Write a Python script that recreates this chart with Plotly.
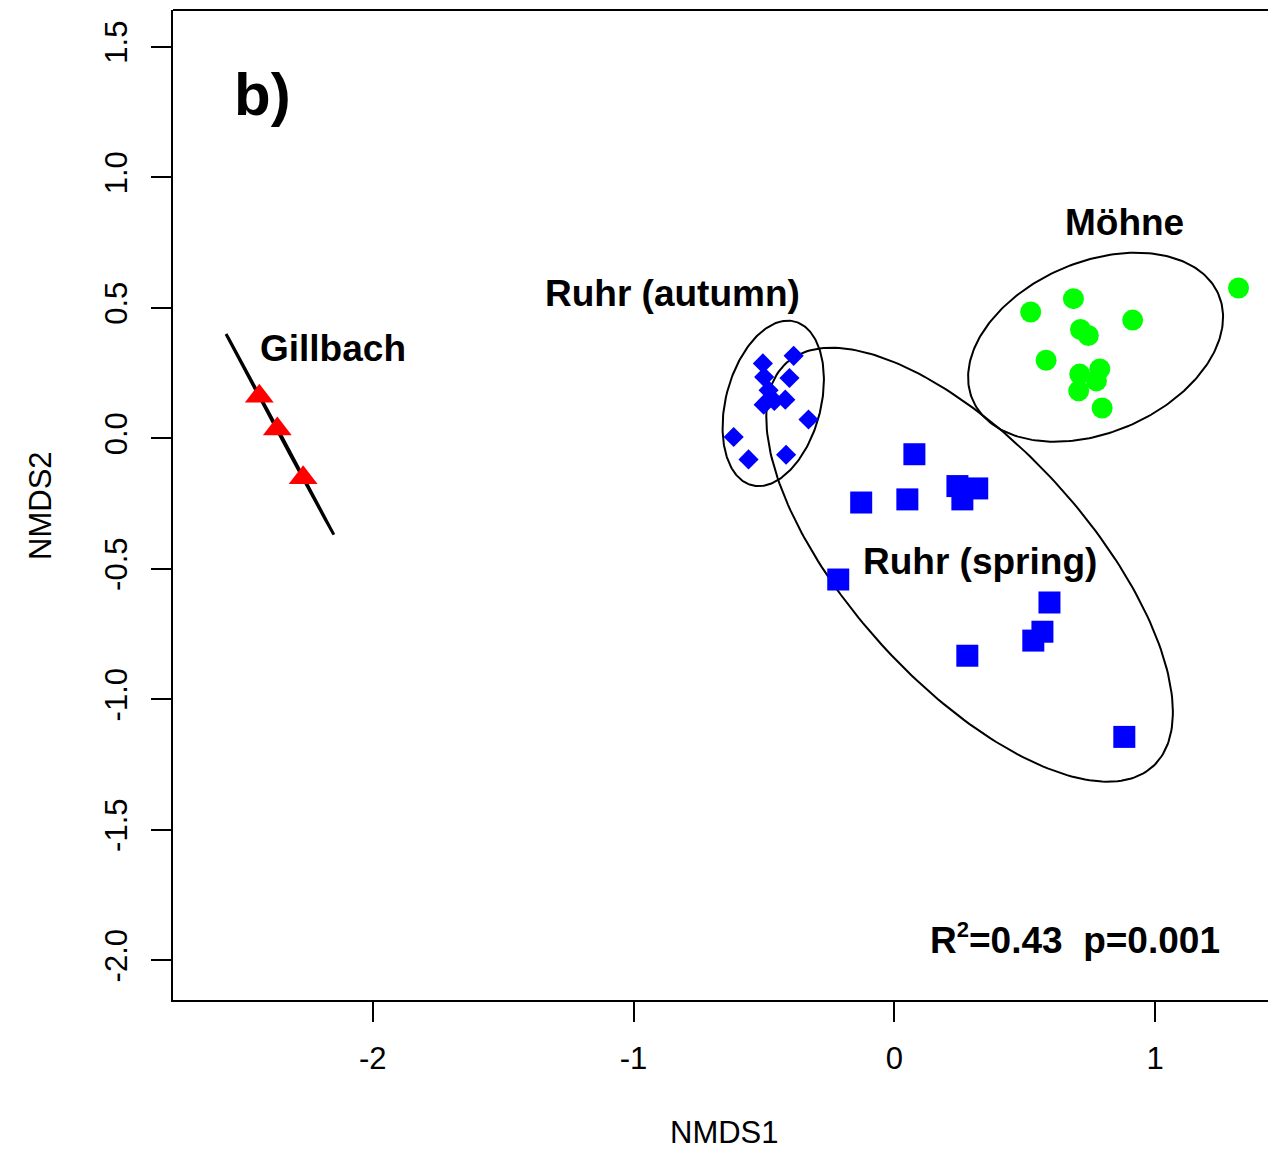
import numpy as np
import plotly.graph_objects as go

# ---- data (NMDS scores) ----
gill_x = [-2.435, -2.366, -2.267]
gill_y = [0.161, 0.036, -0.151]

autumn_x = [-0.504, -0.386, -0.499, -0.402, -0.482, -0.501, -0.460, -0.418, -0.329, -0.616, -0.559, -0.415]
autumn_y = [0.287, 0.316, 0.235, 0.231, 0.184, 0.129, 0.143, 0.148, 0.072, 0.005, -0.081, -0.063]

spring_x = [0.077, -0.127, 0.050, 0.242, 0.318, 0.261, -0.215, 0.595, 0.568, 0.533, 0.280, 0.882]
spring_y = [-0.061, -0.246, -0.234, -0.183, -0.192, -0.234, -0.541, -0.629, -0.741, -0.775, -0.833, -1.144]

mohne_x = [0.523, 0.687, 1.320, 0.914, 0.714, 0.744, 0.582, 0.788, 0.711, 0.775, 0.707, 0.797]
mohne_y = [0.484, 0.535, 0.576, 0.453, 0.417, 0.394, 0.299, 0.266, 0.246, 0.220, 0.182, 0.116]

group_names = ["Gillbach", "Ruhr (autumn)", "Ruhr (spring)", "Möhne"]
stats_text = "R<sup><span style='font-size:22px'>2</span></sup>=0.43\u00a0\u00a0p=0.001"
panel_label = "b)"

x_ticks = [-2, -1, 0, 1]
y_ticks = [-2.0, -1.5, -1.0, -0.5, 0.0, 0.5, 1.0, 1.5]

FONT = "Liberation Sans, Arial, Helvetica, sans-serif"


def sd_ellipse(x, y, conf_scale=np.sqrt(-2 * np.log(0.05)), n=240):
    """ordiellipse(kind='sd', conf=0.95) style ellipse from the points."""
    pts = np.column_stack([x, y])
    c = pts.mean(axis=0)
    cov = np.cov(pts, rowvar=False, ddof=1)
    vals, vecs = np.linalg.eigh(cov)
    vals = np.clip(vals, 0, None)
    t = np.linspace(0, 2 * np.pi, n)
    circ = np.column_stack([np.cos(t), np.sin(t)])
    e = circ @ (vecs * np.sqrt(vals)).T * conf_scale + c
    return e[:, 0], e[:, 1]


fig = go.Figure()

# ellipses
for (gx, gy), lw in [((gill_x, gill_y), 3), ((autumn_x, autumn_y), 2),
                     ((spring_x, spring_y), 2), ((mohne_x, mohne_y), 2)]:
    ex, ey = sd_ellipse(gx, gy)
    fig.add_trace(go.Scatter(x=ex, y=ey, mode="lines",
                             line=dict(color="black", width=lw),
                             hoverinfo="skip", showlegend=False))

# points
fig.add_trace(go.Scatter(x=gill_x, y=gill_y, mode="markers", name=group_names[0],
                         marker=dict(symbol="triangle-up", size=25, color="#FF0000", line=dict(width=0))))
fig.add_trace(go.Scatter(x=autumn_x, y=autumn_y, mode="markers", name=group_names[1],
                         marker=dict(symbol="diamond", size=15.5, color="#0000FF", line=dict(width=0))))
fig.add_trace(go.Scatter(x=spring_x, y=spring_y, mode="markers", name=group_names[2],
                         marker=dict(symbol="square", size=22, color="#0000FF", line=dict(width=0))))
fig.add_trace(go.Scatter(x=mohne_x, y=mohne_y, mode="markers", name=group_names[3],
                         marker=dict(symbol="circle", size=21, color="#00FF00", line=dict(width=0))))

# group labels
label_pos = {
    "Gillbach": (-2.152, 0.345),
    "Ruhr (autumn)": (-0.852, 0.556),
    "Ruhr (spring)": (0.330, -0.472),
    "Möhne": (0.882, 0.825),
}
annots = []
for name in group_names:
    lx, ly = label_pos[name]
    annots.append(dict(x=lx, y=ly, xref="x", yref="y", text=name, showarrow=False,
                       font=dict(family=FONT, size=37, color="black", weight="bold"),
                       xanchor="center", yanchor="middle"))
annots.append(dict(x=0.694, y=-1.919, xref="x", yref="y", text=stats_text, showarrow=False,
                   font=dict(family=FONT, size=37, color="black", weight="bold"),
                   xanchor="center", yanchor="middle"))
annots.append(dict(x=-2.424, y=1.316, xref="x", yref="y", text=panel_label, showarrow=False,
                   font=dict(family=FONT, size=60, color="black", weight="bold"),
                   xanchor="center", yanchor="middle"))
# axis titles
annots.append(dict(x=0.5041, y=-0.1343, xref="paper", yref="paper", text="NMDS1", showarrow=False,
                   font=dict(family=FONT, size=31, color="black"), xanchor="center", yanchor="middle"))
annots.append(dict(x=-0.1215, y=0.5, xref="paper", yref="paper", text="NMDS2", showarrow=False,
                   textangle=-90,
                   font=dict(family=FONT, size=31, color="black"), xanchor="center", yanchor="middle"))

fig.update_layout(
    width=1268, height=1152,
    margin=dict(l=173, r=0, t=10, b=152),
    paper_bgcolor="white", plot_bgcolor="white",
    showlegend=False,
    annotations=annots,
    shapes=[dict(type="line", xref="paper", yref="paper", x0=0, x1=1, y0=1, y1=1,
                 line=dict(color="black", width=2))],
    xaxis=dict(range=[-2.766, 1.433], tickvals=x_ticks, ticktext=[str(v) for v in x_ticks],
               showgrid=False, zeroline=False, showline=True, linecolor="black", linewidth=2,
               ticks="outside", ticklen=20, tickwidth=2, tickcolor="black",
               tickfont=dict(family=FONT, size=31, color="black"), ticklabelstandoff=10),
    yaxis=dict(range=[-2.152, 1.641], tickvals=y_ticks, ticktext=[f"{v:.1f}" for v in y_ticks],
               showgrid=False, zeroline=False, showline=True, linecolor="black", linewidth=2,
               ticks="outside", ticklen=20, tickwidth=2, tickcolor="black", tickangle=-90,
               tickfont=dict(family=FONT, size=31, color="black"), ticklabelstandoff=12),
)

fig.write_html("out.html")
